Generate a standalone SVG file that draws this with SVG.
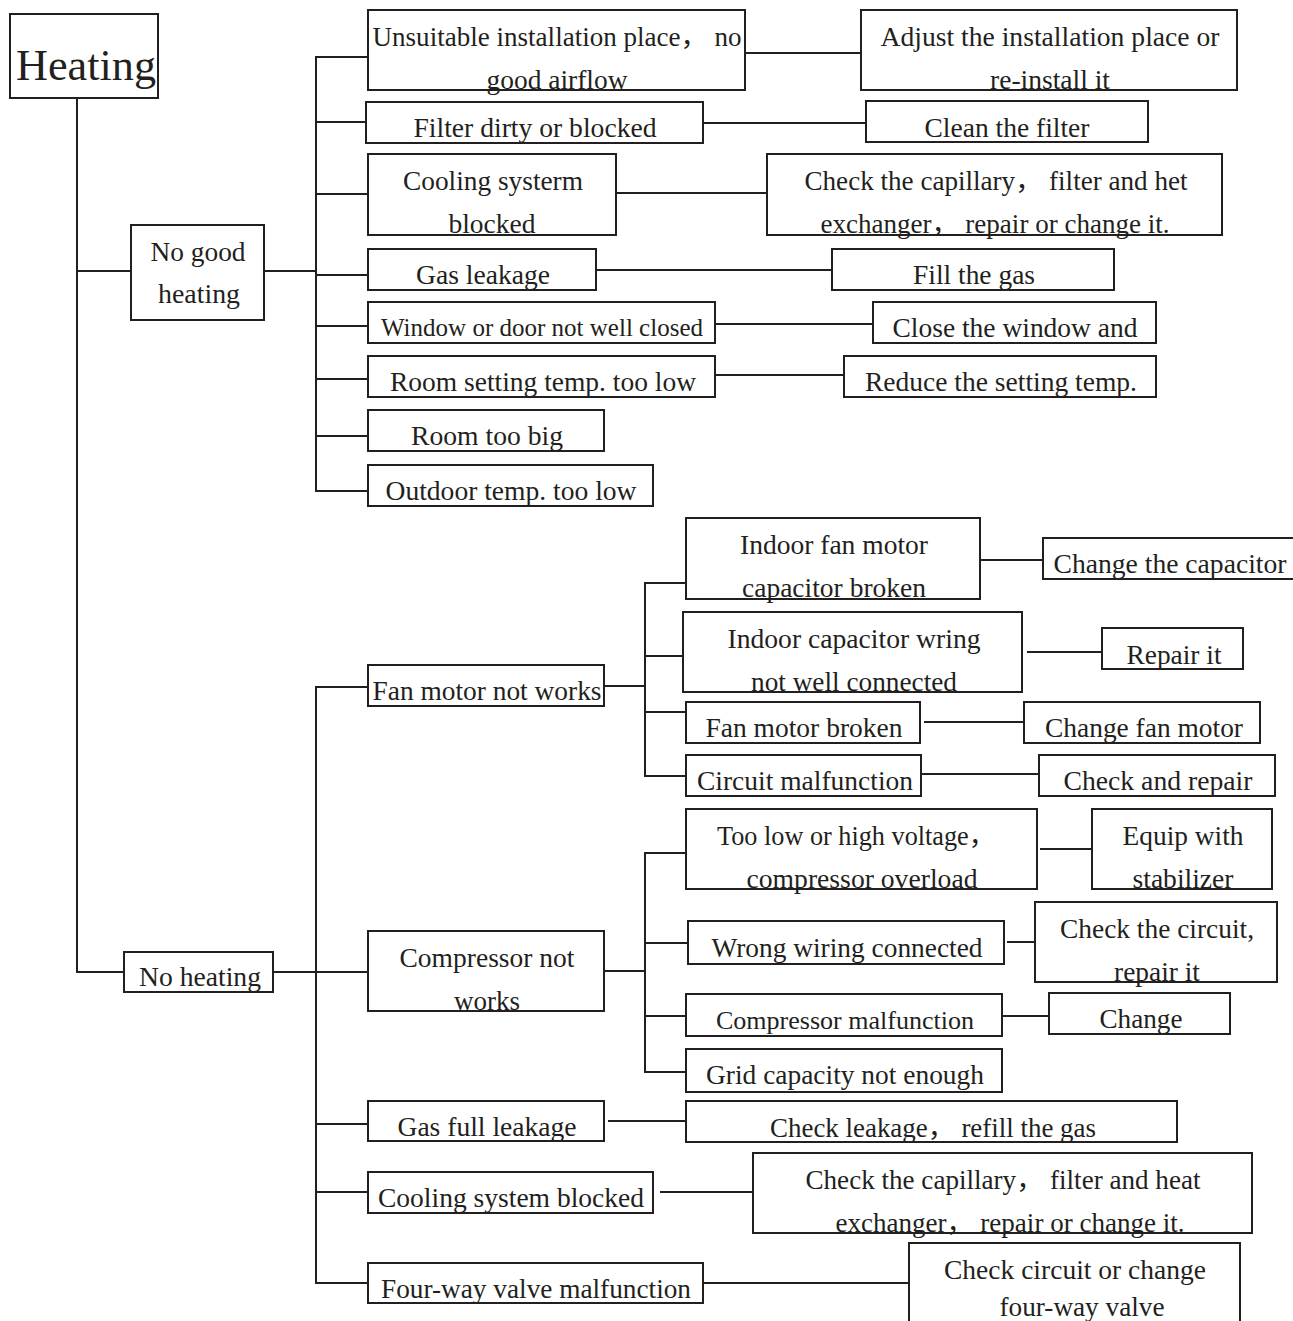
<svg xmlns="http://www.w3.org/2000/svg" width="1293" height="1321" viewBox="0 0 1293 1321">
<style>
.b{fill:#fff;stroke:#231f20;stroke-width:2}
.c{fill:none;stroke:#231f20;stroke-width:2}
text{font-family:"Liberation Serif","Noto Sans CJK SC",serif;font-size:27px;fill:#231f20;text-anchor:middle}
.s{font-size:25px}
</style>
<rect width="1293" height="1321" fill="#fff"/>
<g id="connectors">
<polyline class="c" points="77,98 77,972 124,972"/>
<polyline class="c" points="77,271 131,271"/>
<polyline class="c" points="264,271 316,271"/>
<polyline class="c" points="368,57 316,57 316,491 368,491"/>
<line class="c" x1="316" y1="122" x2="366" y2="122"/>
<line class="c" x1="316" y1="194" x2="368" y2="194"/>
<line class="c" x1="316" y1="275" x2="368" y2="275"/>
<line class="c" x1="316" y1="326" x2="368" y2="326"/>
<line class="c" x1="316" y1="379" x2="368" y2="379"/>
<line class="c" x1="316" y1="436" x2="368" y2="436"/>
<line class="c" x1="745" y1="53" x2="861" y2="53"/>
<line class="c" x1="703" y1="123" x2="866" y2="123"/>
<line class="c" x1="616" y1="193" x2="767" y2="193"/>
<line class="c" x1="596" y1="270" x2="832" y2="270"/>
<line class="c" x1="715" y1="324" x2="873" y2="324"/>
<line class="c" x1="715" y1="375" x2="844" y2="375"/>
<polyline class="c" points="273,972 316,972"/>
<polyline class="c" points="368,687 316,687 316,1283 368,1283"/>
<line class="c" x1="316" y1="972" x2="368" y2="972"/>
<line class="c" x1="316" y1="1124" x2="368" y2="1124"/>
<line class="c" x1="316" y1="1192" x2="368" y2="1192"/>
<line class="c" x1="604" y1="686" x2="645" y2="686"/>
<polyline class="c" points="686,583 645,583 645,776 686,776"/>
<line class="c" x1="645" y1="656" x2="686" y2="656"/>
<line class="c" x1="645" y1="712" x2="686" y2="712"/>
<line class="c" x1="980" y1="560" x2="1043" y2="560"/>
<line class="c" x1="1027" y1="652" x2="1102" y2="652"/>
<line class="c" x1="924" y1="722" x2="1024" y2="722"/>
<line class="c" x1="921" y1="774" x2="1039" y2="774"/>
<line class="c" x1="604" y1="971" x2="645" y2="971"/>
<polyline class="c" points="686,853 645,853 645,1072 686,1072"/>
<line class="c" x1="645" y1="943" x2="688" y2="943"/>
<line class="c" x1="645" y1="1016" x2="686" y2="1016"/>
<line class="c" x1="1040" y1="849" x2="1092" y2="849"/>
<line class="c" x1="1007" y1="942" x2="1035" y2="942"/>
<line class="c" x1="1002" y1="1016" x2="1049" y2="1016"/>
<line class="c" x1="608" y1="1121" x2="686" y2="1121"/>
<line class="c" x1="660" y1="1192" x2="753" y2="1192"/>
<line class="c" x1="703" y1="1283" x2="909" y2="1283"/>
</g>
<g id="heating"><rect class="b" x="10" y="14" width="148" height="84"/><text x="86" y="80" style="font-size:44px" textLength="140" lengthAdjust="spacingAndGlyphs">Heating</text></g>
<g id="no-good-heating"><rect class="b" x="131" y="225" width="133" height="95"/><text x="198" y="261" textLength="95" lengthAdjust="spacingAndGlyphs">No good</text><text x="199" y="303" textLength="82" lengthAdjust="spacingAndGlyphs">heating</text></g>
<g id="c1"><rect class="b" x="368" y="10" width="377" height="80"/><text x="557" y="46" textLength="369" lengthAdjust="spacingAndGlyphs">Unsuitable installation place， no</text><text x="557" y="89" textLength="141" lengthAdjust="spacingAndGlyphs">good airflow</text></g>
<g id="r1"><rect class="b" x="861" y="10" width="376" height="80"/><text x="1050" y="46" textLength="339" lengthAdjust="spacingAndGlyphs">Adjust the installation place or</text><text x="1050" y="89" textLength="120" lengthAdjust="spacingAndGlyphs">re-install it</text></g>
<g id="c2"><rect class="b" x="366" y="102" width="337" height="41"/><text x="535" y="137" textLength="243" lengthAdjust="spacingAndGlyphs">Filter dirty or blocked</text></g>
<g id="r2"><rect class="b" x="866" y="101" width="282" height="41"/><text x="1007" y="137" textLength="165" lengthAdjust="spacingAndGlyphs">Clean the filter</text></g>
<g id="c3"><rect class="b" x="368" y="154" width="248" height="81"/><text x="493" y="190" textLength="180" lengthAdjust="spacingAndGlyphs">Cooling systerm</text><text x="492" y="233" textLength="87" lengthAdjust="spacingAndGlyphs">blocked</text></g>
<g id="r3"><rect class="b" x="767" y="154" width="455" height="81"/><text x="996" y="190" textLength="383" lengthAdjust="spacingAndGlyphs">Check the capillary， filter and het</text><text x="995" y="233" textLength="349" lengthAdjust="spacingAndGlyphs">exchanger， repair or change it.</text></g>
<g id="c4"><rect class="b" x="368" y="249" width="228" height="41"/><text x="483" y="284" textLength="134" lengthAdjust="spacingAndGlyphs">Gas leakage</text></g>
<g id="r4"><rect class="b" x="832" y="249" width="282" height="41"/><text x="974" y="284" textLength="122" lengthAdjust="spacingAndGlyphs">Fill the gas</text></g>
<g id="c5"><rect class="b" x="368" y="302" width="347" height="41"/><text class="s" x="542" y="336" textLength="322" lengthAdjust="spacingAndGlyphs">Window or door not well closed</text></g>
<g id="r5"><rect class="b" x="873" y="302" width="283" height="41"/><text x="1015" y="337" textLength="245" lengthAdjust="spacingAndGlyphs">Close the window and</text></g>
<g id="c6"><rect class="b" x="368" y="356" width="347" height="41"/><text x="543" y="391" textLength="306" lengthAdjust="spacingAndGlyphs">Room setting temp. too low</text></g>
<g id="r6"><rect class="b" x="844" y="356" width="312" height="41"/><text x="1001" y="391" textLength="272" lengthAdjust="spacingAndGlyphs">Reduce the setting temp.</text></g>
<g id="c7"><rect class="b" x="368" y="410" width="236" height="41"/><text x="487" y="445" textLength="152" lengthAdjust="spacingAndGlyphs">Room too big</text></g>
<g id="c8"><rect class="b" x="368" y="465" width="285" height="41"/><text x="511" y="500" textLength="251" lengthAdjust="spacingAndGlyphs">Outdoor temp. too low</text></g>
<g id="no-heating"><rect class="b" x="124" y="952" width="149" height="40"/><text x="200" y="986" textLength="122" lengthAdjust="spacingAndGlyphs">No heating</text></g>
<g id="fan"><rect class="b" x="368" y="665" width="236" height="41"/><text x="487" y="700" textLength="229" lengthAdjust="spacingAndGlyphs">Fan motor not works</text></g>
<g id="f1"><rect class="b" x="686" y="518" width="294" height="81"/><text x="834" y="554" textLength="188" lengthAdjust="spacingAndGlyphs">Indoor fan motor</text><text x="834" y="597" textLength="184" lengthAdjust="spacingAndGlyphs">capacitor broken</text></g>
<g id="fr1"><rect class="b" x="1043" y="538" width="262" height="41"/><text x="1170" y="573" textLength="233" lengthAdjust="spacingAndGlyphs">Change the capacitor</text></g>
<g id="f2"><rect class="b" x="683" y="612" width="339" height="80"/><text x="854" y="648" textLength="253" lengthAdjust="spacingAndGlyphs">Indoor capacitor wring</text><text x="854" y="691" textLength="206" lengthAdjust="spacingAndGlyphs">not well connected</text></g>
<g id="fr2"><rect class="b" x="1102" y="628" width="141" height="41"/><text x="1174" y="664" textLength="95" lengthAdjust="spacingAndGlyphs">Repair it</text></g>
<g id="f3"><rect class="b" x="686" y="702" width="234" height="41"/><text x="804" y="737" textLength="197" lengthAdjust="spacingAndGlyphs">Fan motor broken</text></g>
<g id="fr3"><rect class="b" x="1024" y="702" width="236" height="41"/><text x="1144" y="737" textLength="198" lengthAdjust="spacingAndGlyphs">Change fan motor</text></g>
<g id="f4"><rect class="b" x="686" y="755" width="235" height="41"/><text x="805" y="790" textLength="216" lengthAdjust="spacingAndGlyphs">Circuit malfunction</text></g>
<g id="fr4"><rect class="b" x="1039" y="755" width="236" height="41"/><text x="1158" y="790" textLength="189" lengthAdjust="spacingAndGlyphs">Check and repair</text></g>
<g id="comp"><rect class="b" x="368" y="931" width="236" height="80"/><text x="487" y="967" textLength="175" lengthAdjust="spacingAndGlyphs">Compressor not</text><text x="487" y="1010" textLength="66" lengthAdjust="spacingAndGlyphs">works</text></g>
<g id="k1"><rect class="b" x="686" y="809" width="351" height="80"/><text x="856" y="845" textLength="278" lengthAdjust="spacingAndGlyphs">Too low or high voltage，</text><text x="862" y="888" textLength="231" lengthAdjust="spacingAndGlyphs">compressor overload</text></g>
<g id="kr1"><rect class="b" x="1092" y="809" width="180" height="80"/><text x="1183" y="845" textLength="121" lengthAdjust="spacingAndGlyphs">Equip with</text><text x="1183" y="888" textLength="101" lengthAdjust="spacingAndGlyphs">stabilizer</text></g>
<g id="k2"><rect class="b" x="688" y="921" width="316" height="43"/><text x="847" y="957" textLength="271" lengthAdjust="spacingAndGlyphs">Wrong wiring connected</text></g>
<g id="kr2"><rect class="b" x="1035" y="902" width="242" height="80"/><text x="1157" y="938" textLength="194" lengthAdjust="spacingAndGlyphs">Check the circuit,</text><text x="1157" y="981" textLength="86" lengthAdjust="spacingAndGlyphs">repair it</text></g>
<g id="k3"><rect class="b" x="686" y="994" width="316" height="42"/><text class="s" x="845" y="1029" textLength="258" lengthAdjust="spacingAndGlyphs">Compressor malfunction</text></g>
<g id="kr3"><rect class="b" x="1049" y="993" width="181" height="41"/><text x="1141" y="1028" textLength="83" lengthAdjust="spacingAndGlyphs">Change</text></g>
<g id="k4"><rect class="b" x="686" y="1049" width="316" height="43"/><text x="845" y="1084" textLength="278" lengthAdjust="spacingAndGlyphs">Grid capacity not enough</text></g>
<g id="gas"><rect class="b" x="368" y="1101" width="236" height="40"/><text x="487" y="1136" textLength="179" lengthAdjust="spacingAndGlyphs">Gas full leakage</text></g>
<g id="gasr"><rect class="b" x="686" y="1101" width="491" height="41"/><text x="933" y="1137" textLength="326" lengthAdjust="spacingAndGlyphs">Check leakage， refill the gas</text></g>
<g id="cool"><rect class="b" x="368" y="1172" width="285" height="41"/><text x="511" y="1207" textLength="266" lengthAdjust="spacingAndGlyphs">Cooling system blocked</text></g>
<g id="coolr"><rect class="b" x="753" y="1153" width="499" height="80"/><text x="1003" y="1189" textLength="395" lengthAdjust="spacingAndGlyphs">Check the capillary， filter and heat</text><text x="1010" y="1232" textLength="349" lengthAdjust="spacingAndGlyphs">exchanger， repair or change it.</text></g>
<g id="four"><rect class="b" x="368" y="1263" width="335" height="40"/><text x="536" y="1298" textLength="310" lengthAdjust="spacingAndGlyphs">Four-way valve malfunction</text></g>
<g id="fourr"><rect class="b" x="909" y="1243" width="331" height="90"/><text x="1075" y="1279" textLength="262" lengthAdjust="spacingAndGlyphs">Check circuit or change</text><text x="1082" y="1316" textLength="165" lengthAdjust="spacingAndGlyphs">four-way valve</text></g>
</svg>
